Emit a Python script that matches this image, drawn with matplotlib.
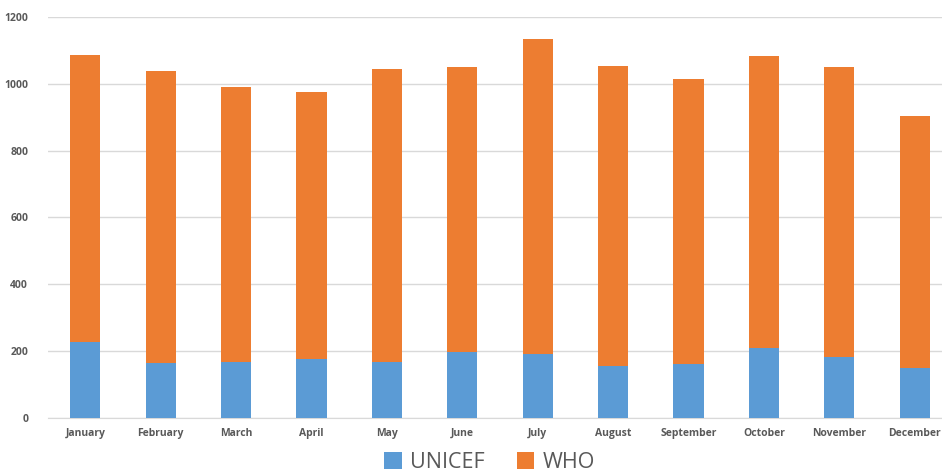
import matplotlib
matplotlib.use("Agg")
import matplotlib.pyplot as plt
import numpy as np

months = ["January", "February", "March", "April", "May", "June", "July",
          "August", "September", "October", "November", "December"]
unicef = [228, 164, 169, 177, 169, 199, 193, 155, 163, 209, 182, 151]
totals = [1087, 1039, 990, 976, 1045, 1051, 1134, 1054, 1014, 1084, 1049, 903]
who = [t - u for t, u in zip(totals, unicef)]
yticks = [0, 200, 400, 600, 800, 1000, 1200]

fig = plt.figure(figsize=(9.42, 4.71), dpi=100)
ax = fig.add_axes([0.0505, 0.1125, 0.9605, 0.8515])

x = np.arange(len(months))
ax.bar(x, unicef, width=0.4, color="#5B9BD5", label="UNICEF", zorder=3)
ax.bar(x, who, width=0.4, bottom=unicef, color="#ED7D31", label="WHO", zorder=3)

ax.set_xlim(-0.5, len(months) - 0.5)
ax.set_ylim(0, 1200)
ax.set_yticks(yticks)
ax.set_yticklabels([str(v) for v in yticks])
ax.set_xticks(x)
ax.set_xticklabels(months)
ax.grid(axis="y", color="#D9D9D9", linewidth=1, zorder=0)
for s in ["top", "right", "left"]:
    ax.spines[s].set_visible(False)
ax.spines["bottom"].set_color("#D9D9D9")
ax.tick_params(axis="both", length=0, colors="#595959")
for lab in ax.get_xticklabels() + ax.get_yticklabels():
    lab.set_fontfamily("Open Sans")
    lab.set_fontweight("bold")
    lab.set_fontsize(7.5)
    lab.set_color("#595959")
ax.tick_params(axis="x", pad=7)
ax.tick_params(axis="y", pad=14)

leg = fig.legend(loc="lower center", bbox_to_anchor=(0.52, -0.045), ncol=2,
                 frameon=False, prop={"family": "Open Sans", "size": 15.5},
                 handlelength=0.8, handleheight=0.8, handletextpad=0.4,
                 columnspacing=1.5)
for t in leg.get_texts():
    t.set_color("#595959")

fig.savefig("out.png", dpi=100)
